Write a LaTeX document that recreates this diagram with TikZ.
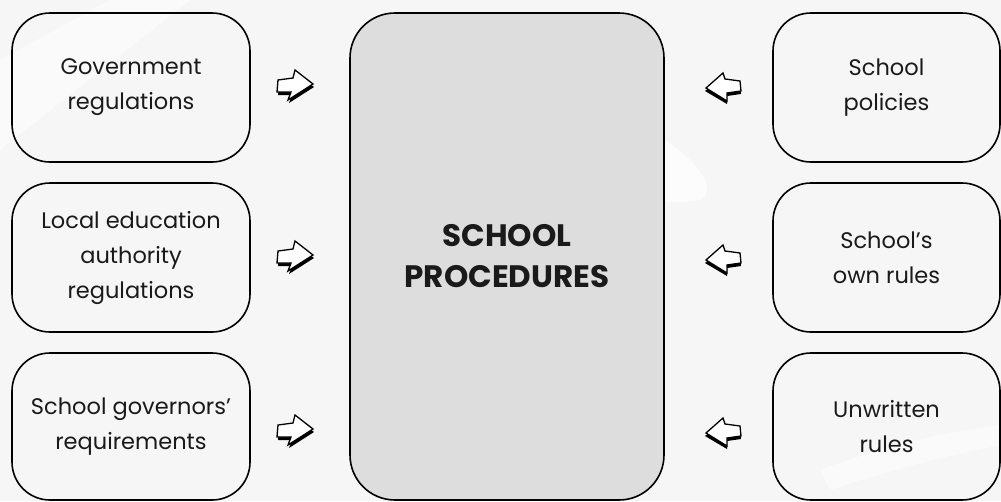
\documentclass[tikz,border=0pt]{standalone}
\usepackage{fontspec}
\setmainfont{Poppins}
\definecolor{bgcol}{HTML}{F6F6F6}
\definecolor{midfill}{HTML}{DDDDDD}
\definecolor{txt}{HTML}{1A1A1A}
\tikzset{
  sidebox/.style={draw=black, line width=1.6pt, rounded corners=38pt, align=center,
    text=txt, inner sep=0pt, font=\fontsize{22.5pt}{35pt}\selectfont},
  centerbox/.style={draw=black, line width=1.6pt, rounded corners=45pt, fill=midfill,
    align=center, text=txt, inner sep=0pt, font=\fontsize{31pt}{41pt}\selectfont\bfseries},
  arrowface/.style={fill=white, draw=black, line width=1.3pt, line join=miter},
  pics/toright/.style={code={
    \fill[black] (-17,-3) -- (-2,-5) -- (0,-13) -- (19,1) -- (-6,17) -- (-3,9) -- (-17,9) -- cycle;
    \path[arrowface] (-17,-6) -- (-2,-8) -- (0,-16) -- (18,-2) -- (-7,14) -- (-4,6) -- (-18,6) -- cycle;
  }},
  pics/toleft/.style={code={
    \fill[black] (-19,4) -- (-1,-11) -- (1,-5) -- (16,-3) -- (17,7) -- (3,9) -- (3,17) -- cycle;
    \path[arrowface] (-18,1) -- (-1,-14) -- (1,-8) -- (16,-6) -- (17,4) -- (3,6) -- (3,14) -- cycle;
  }}
}
\begin{document}
\begin{tikzpicture}[x=1pt,y=-1pt]
  \fill[bgcol] (0,0) rectangle (1001,501);
  \useasboundingbox (0,0) rectangle (1001,501);
  % faint background swooshes
  \fill[white,opacity=0.55] (0,60) -- (110,0) -- (190,0) -- (0,150) -- cycle;
  \fill[white,opacity=0.7] (610,110) .. controls (680,140) and (725,185) .. (700,200) .. controls (670,205) and (640,200) .. (610,195) -- cycle;
  \fill[white,opacity=0.5] (820,470) .. controls (900,440) and (960,430) .. (1001,425) -- (1001,445) .. controls (950,455) and (890,470) .. (830,490) -- cycle;

  % left boxes
  \node[sidebox, minimum width=238pt, minimum height=149pt] (g1) at (131,87.5) {Government\\regulations};
  \node[sidebox, minimum width=238pt, minimum height=149pt] (g2) at (131,257.5) {Local education\\authority\\regulations};
  \node[sidebox, minimum width=238pt, minimum height=147pt] (g3) at (131,426.5) {School governors'\\requirements};
  % centre
  \node[centerbox, minimum width=314pt, minimum height=487pt] (c) at (507,256.5) {SCHOOL\\PROCEDURES};
  % right boxes
  \node[sidebox, minimum width=227pt, minimum height=149pt] (r1) at (886.5,87.5) {School\\policies};
  \node[sidebox, minimum width=227pt, minimum height=149pt] (r2) at (886.5,257.5) {School's\\own rules};
  \node[sidebox, minimum width=227pt, minimum height=147pt] (r3) at (886.5,426.5) {Unwritten\\rules};

  % arrows
  \coordinate (a1) at (295,86);
  \coordinate (a2) at (295,257);
  \coordinate (a3) at (295,431);
  \coordinate (b1) at (724,87);
  \coordinate (b2) at (724,259);
  \coordinate (b3) at (724,432);
  \pic at (a1) {toright};
  \pic at (a2) {toright};
  \pic at (a3) {toright};
  \pic at (b1) {toleft};
  \pic at (b2) {toleft};
  \pic at (b3) {toleft};
\end{tikzpicture}
\end{document}
